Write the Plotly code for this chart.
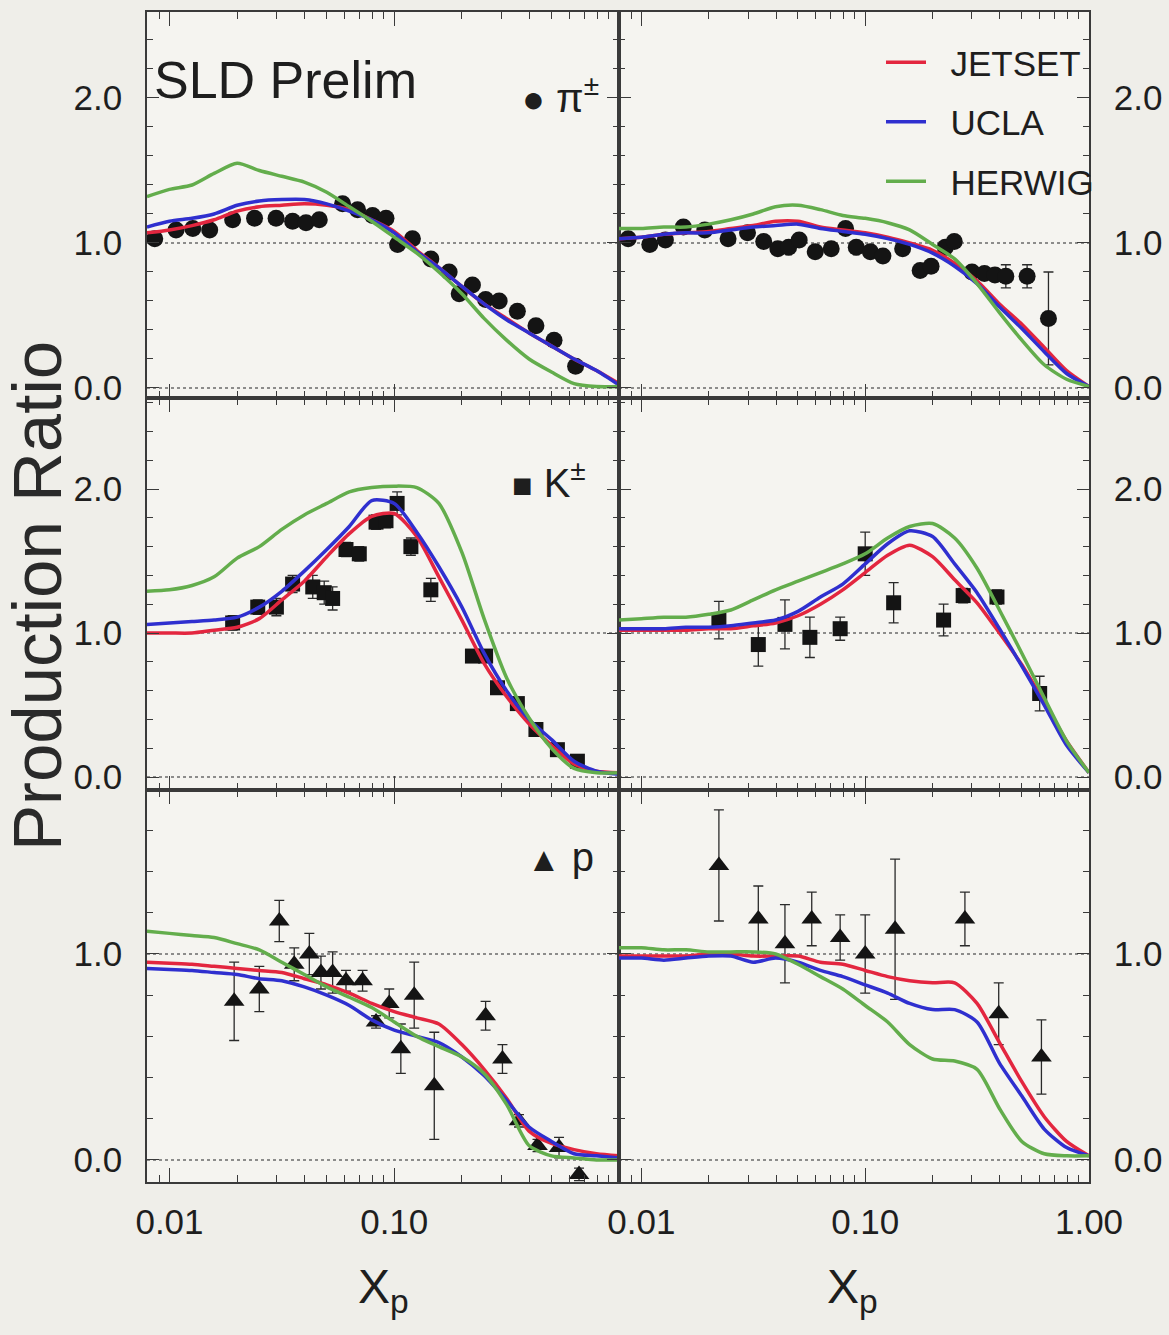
import plotly.graph_objects as go

# ---------------- data ----------------
# common x grid for the model curves
XG = [0.00794, 0.0100, 0.0126, 0.0158, 0.0200, 0.0251, 0.0316, 0.0398, 0.0501, 0.0631, 0.0794,
      0.100, 0.126, 0.158, 0.200, 0.251, 0.316, 0.398, 0.501, 0.631, 0.794, 1.000]

# pi+- (top row)
PI_L_JETSET = [1.07, 1.09, 1.12, 1.16, 1.22, 1.25, 1.26, 1.27, 1.26, 1.23, 1.16, 1.08, 0.95, 0.83, 0.70, 0.58, 0.48, 0.38, 0.29, 0.20, 0.12, 0.03]
PI_L_UCLA = [1.11, 1.15, 1.17, 1.20, 1.26, 1.29, 1.30, 1.30, 1.27, 1.22, 1.16, 1.07, 0.94, 0.83, 0.70, 0.58, 0.47, 0.38, 0.29, 0.20, 0.12, 0.02]
PI_L_HERWIG = [1.32, 1.37, 1.40, 1.48, 1.55, 1.50, 1.46, 1.42, 1.35, 1.25, 1.15, 1.04, 0.93, 0.80, 0.65, 0.48, 0.33, 0.20, 0.11, 0.03, 0.01, 0.01]
PI_R_JETSET = [1.03, 1.04, 1.06, 1.07, 1.08, 1.10, 1.12, 1.15, 1.15, 1.11, 1.09, 1.07, 1.04, 1.00, 0.95, 0.86, 0.74, 0.58, 0.44, 0.28, 0.12, 0.01]
PI_R_UCLA = [1.03, 1.04, 1.06, 1.07, 1.07, 1.09, 1.11, 1.12, 1.13, 1.10, 1.08, 1.06, 1.03, 0.99, 0.93, 0.84, 0.72, 0.56, 0.41, 0.25, 0.10, 0.01]
PI_R_HERWIG = [1.10, 1.10, 1.11, 1.11, 1.13, 1.16, 1.20, 1.25, 1.26, 1.23, 1.19, 1.17, 1.14, 1.09, 0.99, 0.89, 0.72, 0.52, 0.33, 0.16, 0.06, 0.01]

PI_L_X = [0.0086, 0.0107, 0.0127, 0.0151, 0.0191, 0.0239, 0.0298, 0.0353, 0.0405, 0.0464, 0.0589, 0.0687, 0.0801,
          0.0919, 0.1035, 0.1205, 0.1455, 0.1755, 0.1945, 0.2228, 0.255, 0.293, 0.353, 0.427, 0.514, 0.641]
PI_L_Y = [1.03, 1.09, 1.10, 1.09, 1.16, 1.17, 1.17, 1.15, 1.14, 1.16, 1.27, 1.23, 1.19,
          1.17, 0.99, 1.03, 0.89, 0.80, 0.65, 0.71, 0.61, 0.60, 0.53, 0.43, 0.33, 0.15]
PI_L_E = [0.02] * 20 + [0.02, 0.02, 0.03, 0.03, 0.03, 0.04]

PI_R_X = [0.00873, 0.0109, 0.0128, 0.0154, 0.0192, 0.0244, 0.0298, 0.0352, 0.0407, 0.0455, 0.0507, 0.0598, 0.0705, 0.0817,
          0.0912, 0.1055, 0.120, 0.147, 0.176, 0.197, 0.228, 0.250, 0.300, 0.341, 0.380, 0.425, 0.529, 0.659]
PI_R_Y = [1.03, 0.99, 1.02, 1.11, 1.09, 1.03, 1.07, 1.01, 0.96, 0.97, 1.02, 0.94, 0.96, 1.10,
          0.97, 0.94, 0.91, 0.96, 0.81, 0.84, 0.97, 1.01, 0.80, 0.79, 0.78, 0.77, 0.77, 0.48]
PI_R_E = [0.02] * 22 + [0.03, 0.03, 0.04, 0.08, 0.08, 0.32]

# K+- (middle row)
K_L_JETSET = [1.00, 1.00, 1.00, 1.02, 1.04, 1.10, 1.23, 1.36, 1.53, 1.69, 1.81, 1.83, 1.67, 1.39, 1.09, 0.79, 0.56, 0.37, 0.22, 0.09, 0.04, 0.03]
K_L_UCLA = [1.06, 1.07, 1.08, 1.09, 1.11, 1.18, 1.29, 1.43, 1.58, 1.74, 1.92, 1.90, 1.70, 1.46, 1.18, 0.86, 0.60, 0.40, 0.26, 0.11, 0.04, 0.02]
K_L_HERWIG = [1.29, 1.30, 1.33, 1.39, 1.52, 1.60, 1.72, 1.82, 1.90, 1.98, 2.01, 2.02, 2.01, 1.90, 1.56, 1.10, 0.69, 0.41, 0.20, 0.06, 0.03, 0.03]
K_R_JETSET = [1.02, 1.02, 1.02, 1.02, 1.03, 1.03, 1.05, 1.07, 1.12, 1.20, 1.30, 1.42, 1.54, 1.61, 1.53, 1.37, 1.21, 1.00, 0.78, 0.52, 0.25, 0.03]
K_R_UCLA = [1.03, 1.03, 1.03, 1.04, 1.04, 1.05, 1.07, 1.09, 1.15, 1.25, 1.34, 1.48, 1.62, 1.71, 1.67, 1.48, 1.28, 1.03, 0.77, 0.50, 0.22, 0.03]
K_R_HERWIG = [1.09, 1.10, 1.11, 1.11, 1.13, 1.16, 1.23, 1.30, 1.36, 1.42, 1.48, 1.55, 1.66, 1.74, 1.76, 1.66, 1.45, 1.16, 0.86, 0.55, 0.25, 0.03]

K_L_X = [0.0191, 0.0247, 0.0299, 0.0353, 0.0434, 0.0488, 0.0532, 0.061, 0.0699, 0.083, 0.0919, 0.103, 0.1186, 0.1455,
         0.2228, 0.255, 0.288, 0.353, 0.427, 0.532, 0.653]
K_L_Y = [1.07, 1.18, 1.18, 1.34, 1.32, 1.28, 1.24, 1.58, 1.55, 1.77, 1.78, 1.90, 1.60, 1.30,
         0.84, 0.84, 0.62, 0.51, 0.33, 0.19, 0.11]
K_L_E = [0.05, 0.05, 0.06, 0.06, 0.08, 0.08, 0.08, 0.05, 0.05, 0.05, 0.05, 0.08, 0.06, 0.08,
         0.04, 0.04, 0.04, 0.04, 0.03, 0.03, 0.03]

K_R_X = [0.0222, 0.0333, 0.0438, 0.0566, 0.0773, 0.100, 0.134, 0.224, 0.274, 0.388, 0.602]
K_R_Y = [1.09, 0.92, 1.06, 0.97, 1.03, 1.55, 1.21, 1.09, 1.26, 1.25, 0.58]
K_R_E = [0.13, 0.15, 0.17, 0.14, 0.08, 0.15, 0.14, 0.11, 0.05, 0.05, 0.12]

# protons (bottom row)
P_L_JETSET = [0.96, 0.955, 0.95, 0.94, 0.93, 0.92, 0.91, 0.88, 0.85, 0.81, 0.76, 0.72, 0.69, 0.66, 0.56, 0.44, 0.30, 0.14, 0.08, 0.05, 0.03, 0.02]
P_L_UCLA = [0.93, 0.925, 0.92, 0.91, 0.90, 0.88, 0.87, 0.84, 0.80, 0.75, 0.68, 0.63, 0.60, 0.57, 0.50, 0.41, 0.29, 0.16, 0.09, 0.03, 0.02, 0.01]
P_L_HERWIG = [1.11, 1.10, 1.09, 1.08, 1.05, 1.02, 0.96, 0.90, 0.84, 0.79, 0.74, 0.67, 0.60, 0.55, 0.50, 0.42, 0.27, 0.07, 0.02, 0.01, 0.00, 0.00]
P_R_JETSET = [0.99, 0.99, 0.99, 0.99, 1.00, 1.00, 0.99, 0.99, 0.99, 0.96, 0.95, 0.92, 0.89, 0.87, 0.86, 0.86, 0.76, 0.57, 0.38, 0.21, 0.09, 0.02]
P_R_UCLA = [0.98, 0.98, 0.97, 0.98, 0.99, 0.99, 0.96, 0.98, 0.96, 0.92, 0.89, 0.85, 0.81, 0.76, 0.73, 0.73, 0.67, 0.47, 0.31, 0.15, 0.06, 0.02]
P_R_HERWIG = [1.03, 1.03, 1.02, 1.02, 1.01, 1.01, 1.01, 1.00, 0.95, 0.89, 0.83, 0.75, 0.67, 0.56, 0.49, 0.48, 0.44, 0.25, 0.09, 0.03, 0.02, 0.02]

P_L_X = [0.0194, 0.0251, 0.0308, 0.0359, 0.0419, 0.0472, 0.0532, 0.0610, 0.0723, 0.0830, 0.0950, 0.107, 0.1227, 0.1507,
         0.255, 0.303, 0.359, 0.434, 0.541, 0.664]
P_L_Y = [0.77, 0.83, 1.16, 0.95, 1.00, 0.91, 0.91, 0.87, 0.87, 0.67, 0.76, 0.54, 0.80, 0.36,
         0.70, 0.49, 0.19, 0.07, 0.06, -0.07]
P_L_E = [0.19, 0.11, 0.10, 0.08, 0.10, 0.08, 0.10, 0.05, 0.05, 0.03, 0.07, 0.12, 0.16, 0.26,
         0.07, 0.07, 0.03, 0.03, 0.05, 0.03]

P_R_X = [0.0222, 0.0333, 0.0438, 0.0577, 0.0773, 0.100, 0.136, 0.279, 0.395, 0.613]
P_R_Y = [1.43, 1.17, 1.05, 1.17, 1.08, 1.00, 1.12, 1.17, 0.71, 0.50]
P_R_E = [0.27, 0.16, 0.19, 0.13, 0.11, 0.19, 0.34, 0.13, 0.15, 0.18]

MODEL_NAMES = ["JETSET", "UCLA", "HERWIG"]
X_TICKS = [0.01, 0.1, 1.0]
X_TICKTEXT_LEFT = ["0.01", "0.10", ""]
X_TICKTEXT_RIGHT = ["0.01", "0.10", "1.00"]
X_MINOR = [0.008, 0.009, 0.02, 0.03, 0.04, 0.05, 0.06, 0.07, 0.08, 0.09,
           0.2, 0.3, 0.4, 0.5, 0.6, 0.7, 0.8, 0.9]
Y_TICKS_TALL = [0, 1, 2]
Y_TICKTEXT_TALL = ["0.0", "1.0", "2.0"]
Y_TICKS_SHORT = [0, 1]
Y_TICKTEXT_SHORT = ["0.0", "1.0"]

# ---------------- style ----------------
W, H = 1169, 1335
RED, BLUE, GREEN = "#e3263f", "#2f2fcf", "#63ad4c"
INK = "#1e1e1e"
FONT = "Liberation Sans, Arial, Helvetica, sans-serif"
NB = "\u00a0\u00a0"

x_dom = [[147 / W, 619 / W], [619 / W, 1089 / W]]
y_dom = [[1 - 398 / H, 1 - 12 / H], [1 - 790 / H, 1 - 398 / H], [1 - 1182 / H, 1 - 790 / H]]
y_rng = [[-0.069, 2.593], [-0.090, 2.632], [-0.107, 1.796]]

panels = [
    (0, 0, PI_L_X, PI_L_Y, PI_L_E, "circle", 17, [PI_L_JETSET, PI_L_UCLA, PI_L_HERWIG]),
    (0, 1, PI_R_X, PI_R_Y, PI_R_E, "circle", 17, [PI_R_JETSET, PI_R_UCLA, PI_R_HERWIG]),
    (1, 0, K_L_X, K_L_Y, K_L_E, "square", 15, [K_L_JETSET, K_L_UCLA, K_L_HERWIG]),
    (1, 1, K_R_X, K_R_Y, K_R_E, "square", 15, [K_R_JETSET, K_R_UCLA, K_R_HERWIG]),
    (2, 0, P_L_X, P_L_Y, P_L_E, "triangle-up", 18, [P_L_JETSET, P_L_UCLA, P_L_HERWIG]),
    (2, 1, P_R_X, P_R_Y, P_R_E, "triangle-up", 18, [P_R_JETSET, P_R_UCLA, P_R_HERWIG]),
]

fig = go.Figure()
layout = {}
shapes = []
for i, (r, c, dx, dy, de, sym, msize, curves) in enumerate(panels):
    n = i + 1
    xa = "x" if n == 1 else f"x{n}"
    ya = "y" if n == 1 else f"y{n}"
    fig.add_trace(go.Scatter(
        x=dx, y=dy, mode="markers", showlegend=False, xaxis=xa, yaxis=ya,
        marker=dict(symbol=sym, size=msize, color="#141414"),
        error_y=dict(type="data", array=de, color="#2a2a2a", thickness=1.3, width=5),
    ))
    for name, ys, col in zip(MODEL_NAMES, curves, [RED, BLUE, GREEN]):
        fig.add_trace(go.Scatter(
            x=XG, y=ys, mode="lines", name=NB + name, legendgroup=name, showlegend=(i == 0),
            xaxis=xa, yaxis=ya,
            line=dict(color=col, width=3.5, shape="spline", smoothing=0.7),
        ))
    common = dict(showline=True, linecolor="#3a3a3a", linewidth=1.5, mirror="allticks",
                  showgrid=False, zeroline=False, ticks="inside", tickcolor="#3a3a3a", tickwidth=1.4,
                  automargin=False)
    layout["xaxis" if n == 1 else f"xaxis{n}"] = dict(
        domain=x_dom[c], anchor=ya, type="log", range=[-2.1, 0],
        tickmode="array", tickvals=X_TICKS,
        ticktext=X_TICKTEXT_LEFT if c == 0 else X_TICKTEXT_RIGHT,
        showticklabels=(r == 2), ticklen=14,
        minor=dict(tickmode="array", tickvals=X_MINOR, ticks="inside", ticklen=7,
                   tickwidth=1.2, tickcolor="#3a3a3a"),
        tickfont=dict(family=FONT, size=35, color=INK), ticklabelstandoff=8,
        **common)
    tall = r < 2
    layout["yaxis" if n == 1 else f"yaxis{n}"] = dict(
        domain=y_dom[r], anchor=xa, range=y_rng[r], side="left" if c == 0 else "right",
        tickmode="array", tickvals=Y_TICKS_TALL if tall else Y_TICKS_SHORT,
        ticktext=Y_TICKTEXT_TALL if tall else Y_TICKTEXT_SHORT,
        ticklen=12,
        minor=dict(tick0=0, dtick=0.2, ticks="inside", ticklen=6, tickwidth=1.2, tickcolor="#3a3a3a"),
        tickfont=dict(family=FONT, size=35, color=INK), ticklabelstandoff=16,
        **common)
    for yv in (0, 1):
        shapes.append(dict(type="line", xref=f"{xa} domain", yref=ya, x0=0, x1=1, y0=yv, y1=yv,
                           line=dict(color="#6a6a6a", width=1.6, dash="dot"), layer="below"))

annotations = [
    dict(text="SLD Prelim", xref="x domain", yref="y domain", x=0.01, y=0.825,
         xanchor="left", yanchor="middle", showarrow=False,
         font=dict(family=FONT, size=52, color=INK)),
    dict(text='<span style="font-size:38px">●</span> π<sup>±</sup>', xref="x domain", yref="y domain",
         x=0.79, y=0.785, xanchor="left", yanchor="middle", showarrow=False,
         font=dict(family=FONT, size=40, color=INK)),
    dict(text='<span style="font-size:34px">■</span> K<sup>±</sup>', xref="x3 domain", yref="y3 domain",
         x=0.77, y=0.79, xanchor="left", yanchor="middle", showarrow=False,
         font=dict(family=FONT, size=40, color=INK)),
    dict(text='<span style="font-size:34px">▲</span> p', xref="x5 domain", yref="y5 domain",
         x=0.80, y=0.83, xanchor="left", yanchor="middle", showarrow=False,
         font=dict(family=FONT, size=40, color=INK)),
    dict(text="Production Ratio", xref="paper", yref="paper", x=38 / W, y=1 - 596 / H,
         textangle=-90, xanchor="center", yanchor="middle", showarrow=False,
         font=dict(family=FONT, size=69, color="#2a2a2a")),
    dict(text="X<sub>p</sub>", xref="paper", yref="paper", x=383 / W, y=1 - 1290 / H,
         xanchor="center", yanchor="middle", showarrow=False,
         font=dict(family=FONT, size=48, color=INK)),
    dict(text="X<sub>p</sub>", xref="paper", yref="paper", x=852 / W, y=1 - 1290 / H,
         xanchor="center", yanchor="middle", showarrow=False,
         font=dict(family=FONT, size=48, color=INK)),
]

fig.update_layout(
    width=W, height=H, margin=dict(l=0, r=0, t=0, b=0, autoexpand=False),
    paper_bgcolor="#efeee9", plot_bgcolor="#f5f4f0",
    shapes=shapes, annotations=annotations,
    legend=dict(x=881 / W, y=1 - 33 / H, xanchor="left", yanchor="top",
                font=dict(family=FONT, size=35, color=INK),
                bgcolor="rgba(0,0,0,0)", traceorder="grouped", tracegroupgap=11, itemwidth=40),
    **layout,
)

fig.write_html("out.html")
